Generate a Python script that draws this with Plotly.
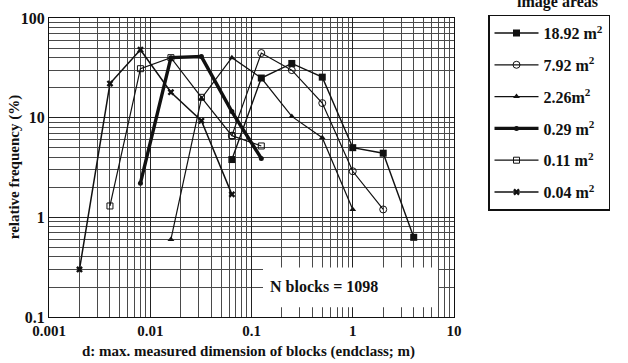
import plotly.graph_objects as go

# End classes (m)
d_18_92 = [0.064, 0.125, 0.25, 0.5, 1, 2, 4]
f_18_92 = [3.8, 25, 35, 25.5, 5.0, 4.4, 0.63]

d_7_92 = [0.064, 0.125, 0.25, 0.5, 1, 2]
f_7_92 = [6.6, 44.5, 30, 14, 2.9, 1.2]

d_2_26 = [0.016, 0.032, 0.064, 0.125, 0.25, 0.5, 1]
f_2_26 = [0.6, 15.6, 40, 25, 10.3, 6.3, 1.2]

d_0_29 = [0.008, 0.016, 0.032, 0.064, 0.125]
f_0_29 = [2.2, 40, 41, 11.5, 3.9]

d_0_11 = [0.004, 0.008, 0.016, 0.032, 0.064, 0.125]
f_0_11 = [1.3, 31, 40, 16, 6.6, 5.2]

d_0_04 = [0.002, 0.004, 0.008, 0.016, 0.032, 0.064]
f_0_04 = [0.3, 22, 48, 18, 9.3, 1.7]

names = ["18.92 m<sup>2</sup>", "7.92 m<sup>2</sup>", "2.26m<sup>2</sup>",
         "0.29 m<sup>2</sup>", "0.11 m<sup>2</sup>", "0.04 m<sup>2</sup>"]

x_ticks = [0.001, 0.01, 0.1, 1, 10]
x_ticklabels = ["0.001", "0.01", "0.1", "1", "10"]
y_ticks = [0.1, 1, 10, 100]
y_ticklabels = ["0.1", "1", "10", "100"]

FONT = "Liberation Serif"
BLK = "#111111"

series = [
    (d_18_92, f_18_92, dict(symbol="square", size=7, color=BLK), 1.4),
    (d_7_92, f_7_92, dict(symbol="circle-open", size=7, color=BLK, line=dict(width=1)), 1.2),
    (d_2_26, f_2_26, dict(symbol="triangle-up", size=6, color=BLK), 1.2),
    (d_0_29, f_0_29, dict(symbol="circle", size=5, color=BLK), 3.4),
    (d_0_11, f_0_11, dict(symbol="square-open", size=6, color=BLK, line=dict(width=1)), 1.2),
    (d_0_04, f_0_04, dict(symbol="x", size=6, color=BLK), 1.5),
]

fig = go.Figure()
for i, (xs, ys, mk, lw) in enumerate(series):
    fig.add_trace(go.Scatter(
        x=xs, y=ys, mode="lines+markers", name=names[i],
        line=dict(color=BLK, width=lw), marker=mk,
        legendgroup=f"g{i}",
    ))

L, R, T, B = 49, 174, 9.5, 46
W, H = 628, 363
pw, ph = W - L - R, H - T - B

def px_x(p):
    return (p - L) / pw

def px_y(p):
    return 1 - (p - T) / ph

grid_major = "#222222"
grid_minor = "#4a4a4a"

axis_common = dict(
    type="log",
    showline=True, linecolor=BLK, linewidth=1.2, mirror=True,
    showgrid=True, gridcolor=grid_major, gridwidth=1.2,
    ticks="", zeroline=False,
    tickfont=dict(family=FONT, size=15, color=BLK, weight="bold"),
    minor=dict(showgrid=True, gridcolor=grid_minor, gridwidth=0.9, dtick="D1"),
)

fig.update_xaxes(**axis_common, range=[-3, 1], tickmode="array",
                 tickvals=x_ticks, ticktext=x_ticklabels)
fig.update_yaxes(**axis_common, range=[-1, 2], tickmode="array",
                 tickvals=y_ticks, ticktext=y_ticklabels)
fig.update_yaxes(tickfont=dict(size=16))

fig.update_layout(
    width=W, height=H,
    margin=dict(l=L, r=R, t=T, b=B, pad=0),
    paper_bgcolor="white", plot_bgcolor="white",
    font=dict(family=FONT, color=BLK),
    showlegend=True,
    legend=dict(
        x=px_x(488), y=px_y(6), xanchor="left", yanchor="top",
        bordercolor=BLK, borderwidth=1.5, bgcolor="white",
        font=dict(family=FONT, size=16, color=BLK, weight="bold"),
        tracegroupgap=8, itemwidth=44,
        entrywidth=122, entrywidthmode="pixels",
        maxheight=400,
    ),
    shapes=[
        dict(type="rect", xref="paper", yref="paper",
             x0=px_x(263), x1=px_x(438), y0=px_y(307), y1=px_y(266),
             fillcolor="white", line=dict(width=0), layer="above"),
    ],
    annotations=[
        dict(text="N blocks = 1098", xref="paper", yref="paper",
             x=px_x(268), y=px_y(286), xanchor="left", yanchor="middle",
             showarrow=False,
             font=dict(family=FONT, size=16, color=BLK, weight="bold")),
        dict(text="d: max. measured dimension of blocks (endclass; m)",
             xref="paper", yref="paper", x=px_x(248), y=px_y(352),
             xanchor="center", yanchor="middle", showarrow=False,
             font=dict(family=FONT, size=15, color=BLK, weight="bold")),
        dict(text="relative frequency (%)", xref="paper", yref="paper",
             x=px_x(14), y=px_y(163), xanchor="center", yanchor="middle",
             textangle=-90, showarrow=False,
             font=dict(family=FONT, size=15, color=BLK, weight="bold")),
        dict(text="image areas", xref="paper", yref="paper",
             x=px_x(557), y=px_y(-7), xanchor="center", yanchor="middle",
             showarrow=False,
             font=dict(family=FONT, size=16, color=BLK, weight="bold")),
    ],
)

fig.write_html("out.html")
